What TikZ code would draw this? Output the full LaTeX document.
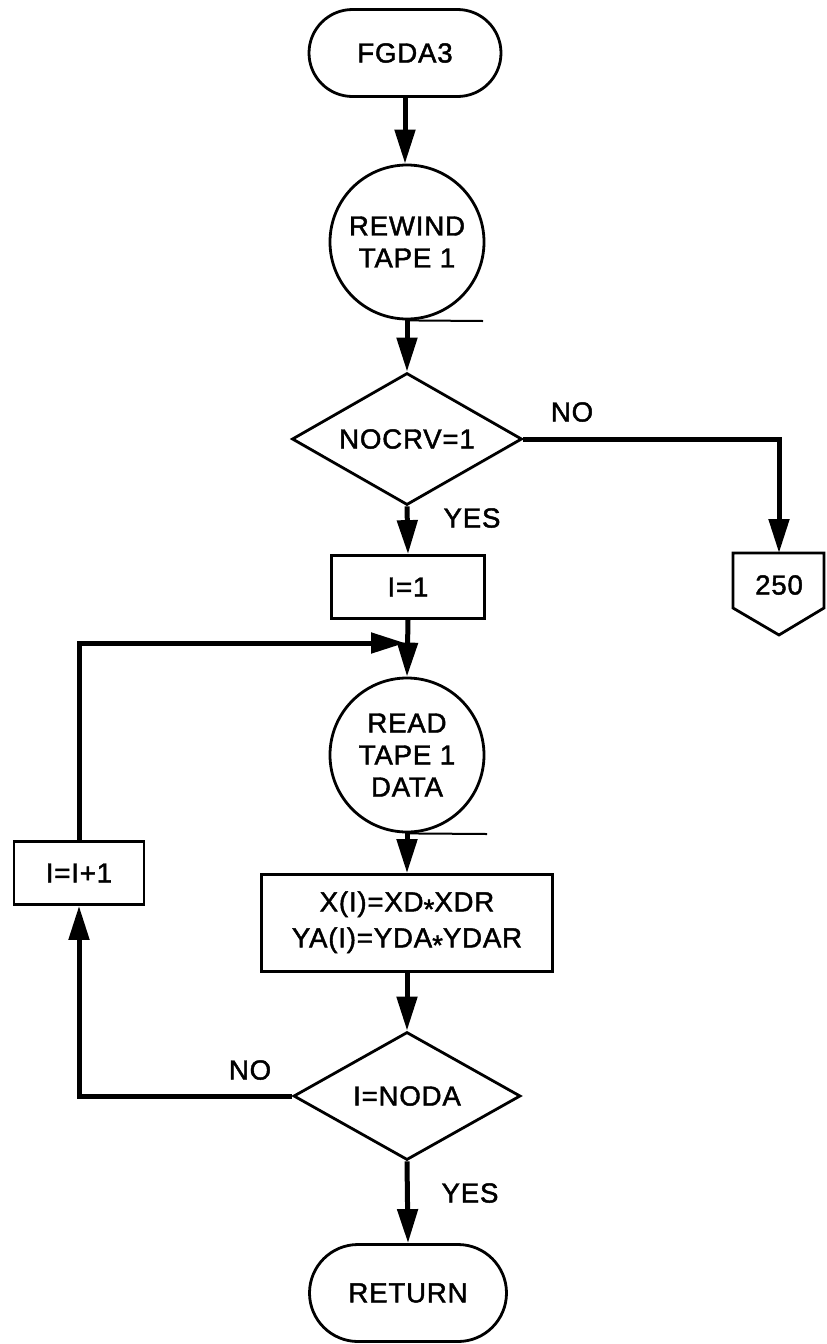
\documentclass[tikz,border=0pt]{standalone}
\usepackage{fontspec}
\setmainfont{Liberation Sans}[LetterSpace=3,FakeBold=1.6]
\usetikzlibrary{arrows.meta,shapes.geometric,shapes.misc}
\begin{document}
\begin{tikzpicture}[x=0.5pt,y=-0.5pt,
  every node/.style={font=\fontsize{13.8}{16}\selectfont, align=center},
  shp/.style={draw, line width=1.4pt},
  term/.style={shp, rounded rectangle, inner sep=0pt},
  tape/.style={shp, circle, inner sep=0pt, minimum size=77pt},
  proc/.style={shp, rectangle, inner sep=0pt},
  dec/.style={shp, diamond, inner sep=0pt, aspect=1.75},
  conn/.style={line width=2.5pt, -{Triangle[length=17pt,width=10pt]}},
  tail/.style={line width=1pt},
  lbl/.style={inner sep=0pt}]
\useasboundingbox (0,0) rectangle (826,1344);
\fill[white] (0,0) rectangle (826,1344);

\node[term, minimum width=96pt, minimum height=43.5pt] (start) at (405,53) {FGDA3};
\node[tape] (rw) at (407,242) {REWIND\\TAPE 1};
\node[dec, minimum width=115pt, minimum height=66pt] (d1) at (407,439) {NOCRV=1};
\node[proc, minimum width=76.5pt, minimum height=31.5pt] (i1) at (408,587) {I=1};
\node[tape] (rd) at (407,755) {READ\\TAPE 1\\DATA};
\node[proc, minimum width=145.5pt, minimum height=48.5pt] (calc) at (407,923)
  {X(I)=XD\raisebox{-0.5ex}{*}XDR\\[2pt]YA(I)=YDA\raisebox{-0.5ex}{*}YDAR};
\node[dec, minimum width=113.5pt, minimum height=64pt] (d2) at (407,1096) {I=NODA};
\node[term, minimum width=98.5pt, minimum height=48.5pt] (ret) at (408,1293) {RETURN};
\node[proc, minimum width=65pt, minimum height=31.5pt] (inc) at (79,873) {I=I+1};

% off-page connector 250
\node[lbl] (c250) at (779,585) {250};
\coordinate (c250top) at (779,553);
\draw[shp, line join=miter] (733,553) -- (824,553) -- (824,608) -- (779,635) -- (733,608) -- cycle;

% tape tails
\coordinate (rwtail) at (483,321);
\coordinate (rdtail) at (487,834);
\draw[tail] (rw.south) -- (rwtail);
\draw[tail] (rd.south) -- (rdtail);

% connectors
\draw[conn] (start.south) -- (start.south |- rw.north);
\draw[conn] (rw.south) -- (d1.north);
\draw[conn] (d1.south) -- (i1.north);
\draw[conn] (d1.east) -| (c250top);
\draw[conn] (i1.south) -- (rd.north);
\draw[conn] (rd.south) -- (calc.north);
\draw[conn] (calc.south) -- (d2.north);
\draw[conn] (d2.south) -- (ret.north);
\draw[conn] (d2.west) -| (inc.south);
\coordinate (loopin) at (405,643);
\draw[conn] (inc.north) |- (loopin);

% labels
\node[lbl] (no1) at (572,412) {NO};
\node[lbl] (yes1) at (472,518) {YES};
\node[lbl] (no2) at (250,1070) {NO};
\node[lbl] (yes2) at (470,1193) {YES};
\end{tikzpicture}
\end{document}
